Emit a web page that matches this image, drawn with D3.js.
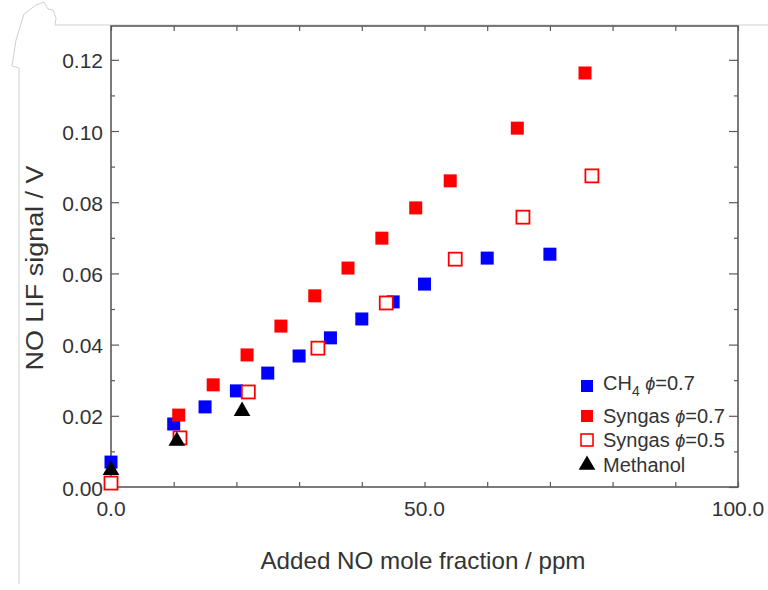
<!DOCTYPE html>
<html>
<head>
<meta charset="utf-8">
<script src="https://cdn.jsdelivr.net/npm/d3@7"></script>
<style>
  body { margin: 0; background: #fff; }
  text { font-family: "Liberation Sans", Arial, sans-serif; fill: #333; }
</style>
</head>
<body>
<div id="vis"></div>
<script>
// data (x: ppm, y: V)
const ch4X = [0, 10, 15, 20, 25, 30, 35, 40, 45, 50, 60, 70];
const ch4Y = [0.0070, 0.0177, 0.0225, 0.0270, 0.0320, 0.0368, 0.0419, 0.0472, 0.0520, 0.0570, 0.0643, 0.0654];
const syn07X = [10.8, 16.3, 21.7, 27.1, 32.5, 37.8, 43.2, 48.6, 54.1, 64.8, 75.6];
const syn07Y = [0.0202, 0.0287, 0.0371, 0.0452, 0.0537, 0.0615, 0.0699, 0.0784, 0.0860, 0.1008, 0.1163];
const syn05X = [0, 11, 21.9, 33, 43.9, 54.9, 65.7, 76.7];
const syn05Y = [0.0011, 0.0138, 0.0267, 0.0390, 0.0517, 0.0640, 0.0758, 0.0874];
const methX = [0, 10.5, 20.9];
const methY = [0.0050, 0.0132, 0.0216];
const xLabels = [0, 50, 100];
const yLabels = [0, 0.02, 0.04, 0.06, 0.08, 0.10, 0.12];

const layout = {
  width: 768,
  height: 590,
  left: 111,
  right: 738,
  top: 26,
  bottom: 487
};

const svg = d3.select("#vis").append("svg")
  .attr("width", layout.width)
  .attr("height", layout.height);

// faint page border with the torn corner
svg.append("path")
  .attr("d", "M19,584 L19,68 L12,66 L16,40 L24,14 L36,5 L44,2 L48,9 L53,10 L56,18 L55,25 L768,25")
  .attr("stroke", "#d0d0d0").attr("stroke-width", 1).attr("fill", "none");

let xScale = d3.scaleLinear().domain([0, 100]).range([layout.left, layout.right]);
let yScale = d3.scaleLinear().domain([0, 0.1295]).range([layout.bottom, layout.top]);

const axisColor = "#5a5a5a";
const xTicks = d3.range(0, 101, 10);
const yTicks = d3.range(0, 0.125, 0.01);

// inward ticks on all four sides
function tickAxis(axis, pos) {
  let g = svg.append("g").attr("transform", pos).call(axis);
  g.selectAll(".domain").remove();
  g.selectAll("line").attr("stroke", axisColor).attr("stroke-width", 1.2);
  g.selectAll("text").remove();
  return g;
}
tickAxis(d3.axisBottom(xScale).tickValues(xTicks).tickSizeInner(-5).tickSizeOuter(0), `translate(0,${layout.bottom})`);
tickAxis(d3.axisTop(xScale).tickValues(xTicks).tickSizeInner(-5).tickSizeOuter(0), `translate(0,${layout.top})`);
let yl = tickAxis(d3.axisLeft(yScale).tickValues(yTicks).tickSizeInner(-5).tickSizeOuter(0), `translate(${layout.left},0)`);
let yr = tickAxis(d3.axisRight(yScale).tickValues(yTicks).tickSizeInner(-5).tickSizeOuter(0), `translate(${layout.right},0)`);
// longer ticks at labelled values
const isMajor = d => yLabels.some(v => Math.abs(v - d) < 1e-6);
yl.selectAll(".tick line").attr("x2", d => isMajor(d) ? 8 : 4);
yr.selectAll(".tick line").attr("x2", d => isMajor(d) ? -9 : -4);

// frame
svg.append("rect")
  .attr("x", layout.left).attr("y", layout.top)
  .attr("width", layout.right - layout.left).attr("height", layout.bottom - layout.top)
  .attr("fill", "none").attr("stroke", axisColor).attr("stroke-width", 1.6);

// tick labels
svg.selectAll(".xlab").data(xLabels).join("text")
  .attr("x", d => xScale(d)).attr("y", 516)
  .attr("text-anchor", "middle").attr("font-size", 21)
  .text(d => d.toFixed(1));
svg.selectAll(".ylab").data(yLabels).join("text")
  .attr("x", 103).attr("y", d => yScale(d) + 8.5)
  .attr("text-anchor", "end").attr("font-size", 21)
  .text(d => d.toFixed(2));

// axis titles
svg.append("text")
  .attr("x", 423).attr("y", 569)
  .attr("text-anchor", "middle").attr("font-size", 24)
  .attr("textLength", 325).attr("lengthAdjust", "spacingAndGlyphs")
  .text("Added NO mole fraction / ppm");
svg.append("text")
  .attr("transform", `translate(43,268) rotate(-90)`)
  .attr("text-anchor", "middle").attr("font-size", 23)
  .attr("textLength", 205).attr("lengthAdjust", "spacingAndGlyphs")
  .text("NO LIF signal / V");

// markers
const sq = 13;
function squares(xs, ys, fill, stroke) {
  svg.append("g").selectAll("rect").data(xs.map((x, i) => [x, ys[i]])).join("rect")
    .attr("x", d => xScale(d[0]) - sq / 2)
    .attr("y", d => yScale(d[1]) - sq / 2)
    .attr("width", sq).attr("height", sq)
    .attr("fill", fill)
    .attr("stroke", stroke)
    .attr("stroke-width", stroke === "none" ? 0 : 1.8);
}
squares(ch4X, ch4Y, "#0000ff", "none");
squares(syn07X, syn07Y, "#ff0000", "none");
squares(syn05X, syn05Y, "#fff", "#ff0000");

const tri = d3.symbol().type(d3.symbolTriangle).size(120);
svg.append("g").selectAll("path").data(methX.map((x, i) => [x, methY[i]])).join("path")
  .attr("transform", d => `translate(${xScale(d[0])},${yScale(d[1]) + 1})`)
  .attr("d", tri)
  .attr("fill", "#000");

// legend
const legendRows = [
  { y: 386, kind: "sq", fill: "#0000ff", stroke: "none" },
  { y: 416, kind: "sq", fill: "#ff0000", stroke: "none" },
  { y: 440, kind: "sq", fill: "#fff", stroke: "#ff0000" },
  { y: 465, kind: "tri" }
];
legendRows.forEach(r => {
  if (r.kind === "sq") {
    svg.append("rect")
      .attr("x", 581).attr("y", r.y - 6).attr("width", 12).attr("height", 12)
      .attr("fill", r.fill).attr("stroke", r.stroke)
      .attr("stroke-width", r.stroke === "none" ? 0 : 1.6);
  } else {
    svg.append("path").attr("transform", `translate(587,${r.y})`)
      .attr("d", tri).attr("fill", "#000");
  }
});

function phiLabel(y, prefix, value, sub) {
  let t = svg.append("text").attr("x", 603).attr("y", y).attr("font-size", 20);
  t.append("tspan").text(prefix);
  if (sub) t.append("tspan").attr("dy", 6).attr("font-size", 14).text(sub);
  t.append("tspan").attr("dy", sub ? -6 : 0).text(" ");
  t.append("tspan").attr("font-style", "italic").attr("font-size", 18).text("\u03D5");
  t.append("tspan").text("=" + value);
}
phiLabel(390, "CH", "0.7", "4");
phiLabel(423, "Syngas", "0.7");
phiLabel(447, "Syngas", "0.5");
svg.append("text").attr("x", 603).attr("y", 472).attr("font-size", 20).text("Methanol");
</script>
</body>
</html>
